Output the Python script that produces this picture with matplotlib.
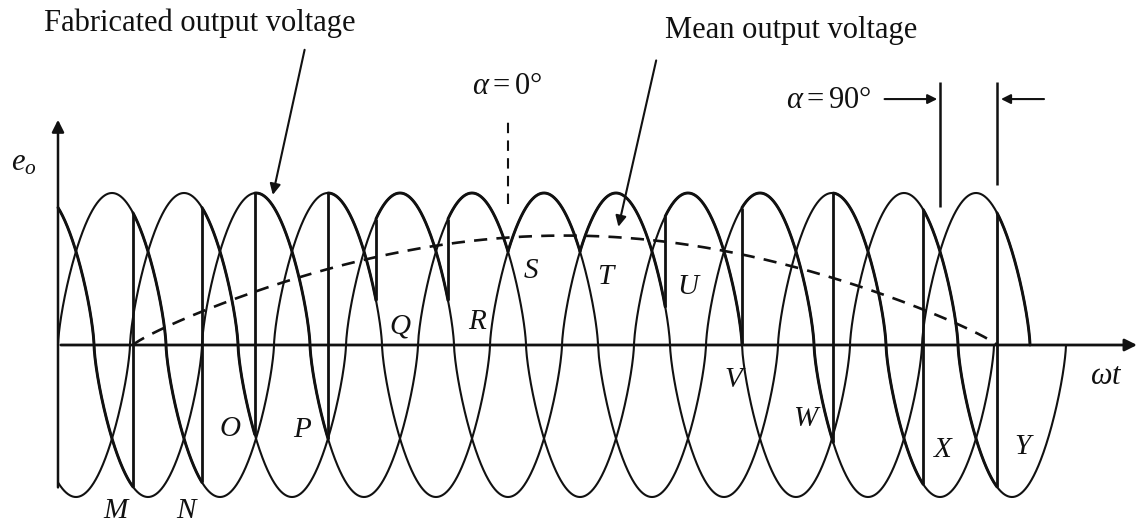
import numpy as np
import matplotlib
matplotlib.use("Agg")
import matplotlib.pyplot as plt

plt.rcParams["font.family"] = ["Liberation Serif", "DejaVu Serif"]
plt.rcParams["mathtext.fontset"] = "custom"
plt.rcParams["mathtext.rm"] = "Liberation Serif"
plt.rcParams["mathtext.it"] = "Liberation Serif:italic"

# ---- supply phases (angles in degrees of phase A) ----
phase_names = ["A", "B", "C"]
phase_shift = [0, 120, 240]
phase_end = [1620, 1560, 1680]
wave_exponent = 0.7  # rounded drawing of each phase voltage

# ---- firing instants of the fabricated output and phase taken over ----
initial_phase = "C"
firing_deg = [125, 240, 328, 450, 530, 650, 750, 870, 1012, 1140, 1292, 1442, 1565]
firing_phase = ["A", "B", "C", "A", "B", "C", "A", "B", "C", "A", "B", "C", "A"]
output_end = 1620

# ---- mean output voltage (dashed) ----
mean_start, mean_end = 125, 1565
mean_peak = 0.72

point_labels = ["M", "N", "O", "P", "Q", "R", "S", "T", "U", "V", "W", "X", "Y"]
label_pos = [(95, -1.09), (213, -1.09), (287, -0.55), (407, -0.56), (570, 0.12),
             (698, 0.15), (788, 0.49), (912, 0.45), (1050, 0.38), (1125, -0.23),
             (1245, -0.49), (1475, -0.69), (1607, -0.67)]


def phase_voltage(theta, name):
    s = np.sin(np.radians(theta - phase_shift[phase_names.index(name)]))
    return np.sign(s) * np.abs(s) ** wave_exponent


fig = plt.figure(figsize=(11.41, 5.25), dpi=100)
ax = fig.add_axes([0, 0, 1, 1])
ax.set_xlim(-58 / 0.6, (1141 - 58) / 0.6)
ax.set_ylim((345 - 525) / 152, 345 / 152)
ax.axis("off")

ink = "#111111"
thin, thick = 1.5, 2.1

# phase voltages
for name, end in zip(phase_names, phase_end):
    th = np.linspace(0, end, 3000)
    ax.plot(th, phase_voltage(th, name), color=ink, lw=thin, solid_capstyle="butt")

# fabricated output voltage
bounds = [0] + firing_deg + [output_end]
phases = [initial_phase] + firing_phase
for i, name in enumerate(phases):
    th = np.linspace(bounds[i], bounds[i + 1], 400)
    ax.plot(th, phase_voltage(th, name), color=ink, lw=thick, solid_capstyle="round")
for i, t in enumerate(firing_deg):
    v0 = phase_voltage(t, phases[i])
    v1 = phase_voltage(t, phases[i + 1])
    if abs(v1 - v0) > 0.02:
        ax.vlines(t, min(v0, v1), max(v0, v1), color=ink, lw=2.0)

# mean output voltage
th = np.linspace(mean_start, mean_end, 400)
sm = np.sin(np.pi * (th - mean_start) / (mean_end - mean_start))
ax.plot(th, mean_peak * sm ** 0.85, color=ink, lw=1.9, dashes=(5, 3.5))

# axes
ax.annotate("", xy=(0, 1.50), xytext=(0, -0.955),
            arrowprops=dict(arrowstyle="-|>", color=ink, lw=1.8, mutation_scale=18))
ax.annotate("", xy=(1803, 0), xytext=(0, 0),
            arrowprops=dict(arrowstyle="-|>", color=ink, lw=2.0, mutation_scale=18))
ax.text(-57, 1.20, r"$e_o$", fontsize=22, ha="center", va="center", color=ink)
ax.text(1748, -0.21, r"$\omega t$", fontsize=22, ha="center", va="center", color=ink)

# point labels
for lab, (x, y) in zip(point_labels, label_pos):
    ax.text(x, y, lab, fontsize=21, style="italic", ha="center", va="center", color=ink)

# annotations
ax.text(237, 2.12, "Fabricated output voltage", fontsize=22, ha="center", va="center", color=ink)
ax.annotate("", xy=(357, 0.97), xytext=(412, 1.96),
            arrowprops=dict(arrowstyle="-|>", color=ink, lw=1.5, mutation_scale=16))
ax.text(1222, 2.07, "Mean output voltage", fontsize=22, ha="center", va="center", color=ink)
ax.annotate("", xy=(933, 0.76), xytext=(998, 1.89),
            arrowprops=dict(arrowstyle="-|>", color=ink, lw=1.5, mutation_scale=16))

ax.text(748, 1.70, r"$\alpha = 0°$", fontsize=22, ha="center", va="center", color=ink)
ax.vlines(750, 0.93, 1.50, color=ink, lw=1.5, linestyles=(0, (5, 3.5)))

ax.text(1285, 1.61, r"$\alpha = 90°$", fontsize=22, ha="center", va="center", color=ink)
ax.vlines(1470, 0.91, 1.73, color=ink, lw=1.8)
ax.vlines(1565, 1.05, 1.73, color=ink, lw=1.8)
ax.annotate("", xy=(1470, 1.618), xytext=(1373, 1.618),
            arrowprops=dict(arrowstyle="-|>", color=ink, lw=1.5, mutation_scale=14))
ax.annotate("", xy=(1567, 1.618), xytext=(1648, 1.618),
            arrowprops=dict(arrowstyle="-|>", color=ink, lw=1.5, mutation_scale=14))

fig.savefig("out.png", dpi=100, facecolor="white")
